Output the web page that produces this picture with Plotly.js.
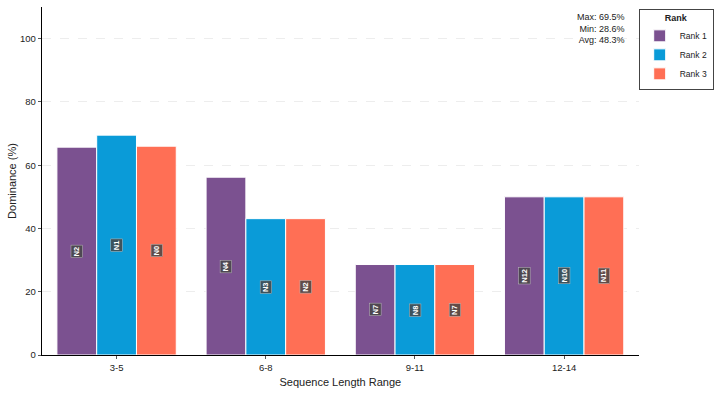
<!DOCTYPE html>
<html>
<head>
<meta charset="utf-8">
<script src="https://cdn.plot.ly/plotly-3.0.1.min.js"></script>
<style>
  body { margin: 0; background: #fff; }
  #chart { width: 718px; height: 393px; }
</style>
</head>
<body>
<div id="chart"></div>
<script>
// data
const ranges = ['3-5', '6-8', '9-11', '12-14'];
const rankNames = ['Rank 1', 'Rank 2', 'Rank 3'];
const rank1 = [65.7, 56.2, 28.6, 50.0];
const rank2 = [69.5, 43.1, 28.6, 50.0];
const rank3 = [66.0, 43.1, 28.6, 50.0];
const rank1Labels = ['N2', 'N4', 'N7', 'N12'];
const rank2Labels = ['N1', 'N3', 'N8', 'N10'];
const rank3Labels = ['N0', 'N2', 'N7', 'N11'];
const colors = ['#7B5190', '#0A9BD8', '#FF6F55'];

const series = [rank1, rank2, rank3];
const labels = [rank1Labels, rank2Labels, rank3Labels];

const traces = series.map((vals, k) => ({
    type: 'bar',
    name: rankNames[k],
    x: ranges,
    y: vals,
    marker: { color: colors[k], line: { color: '#ffffff', width: 1 } },
    hoverinfo: 'x+y+name'
}));

// bar label boxes, centred in each bar
const bargap = 0.2;
const barW = (1 - bargap) / series.length;
const annotations = [];
series.forEach((vals, k) => {
    vals.forEach((v, i) => {
        annotations.push({
            x: i + (k - 1) * barW,
            y: v / 2,
            xref: 'x', yref: 'y',
            text: '<b>' + labels[k][i] + '</b>',
            showarrow: false,
            textangle: -90,
            font: { family: 'Liberation Sans, Arial, sans-serif', size: 7.5, color: '#ffffff' },
            bgcolor: 'rgba(70,70,70,0.85)',
            bordercolor: '#bbbbbb',
            borderwidth: 0.5,
            borderpad: 1
        });
    });
});

const all = series.flat();
const maxV = Math.max(...all);
const minV = Math.min(...all);
const avgV = all.reduce((a, b) => a + b, 0) / all.length;

annotations.push({
    xref: 'paper', yref: 'paper',
    x: 0.98, y: 0.99,
    xanchor: 'right', yanchor: 'top',
    align: 'right',
    showarrow: false,
    text: 'Max: ' + maxV.toFixed(1) + '%<br>Min: ' + minV.toFixed(1) + '%<br>Avg: ' + avgV.toFixed(1) + '%',
    font: { family: 'Liberation Sans, Arial, sans-serif', size: 9, color: '#222' }
});

const layout = {
    width: 718,
    height: 393,
    margin: { l: 42, r: 76, t: 7, b: 38 },
    paper_bgcolor: '#ffffff',
    plot_bgcolor: '#ffffff',
    font: { family: 'Liberation Sans, Arial, sans-serif', size: 9.5, color: '#222' },
    barmode: 'group',
    bargap: bargap,
    bargroupgap: 0,
    showlegend: true,
    legend: {
        title: { text: '<b>Rank</b>', side: 'top center', font: { size: 9 } },
        xref: 'container', yref: 'container',
        x: 0.994, y: 0.978, xanchor: 'right', yanchor: 'top',
        bordercolor: '#444', borderwidth: 1,
        font: { size: 8.5 },
        itemwidth: 30,
        tracegroupgap: 0
    },
    xaxis: {
        title: { text: 'Sequence Length Range', font: { size: 11 }, standoff: 6 },
        showline: true, linecolor: '#000', linewidth: 1.2,
        ticks: 'outside', ticklen: 3, tickcolor: '#555',
        showgrid: false, zeroline: false,
        range: [-0.5, 3.5]
    },
    yaxis: {
        title: { text: 'Dominance (%)', font: { size: 11 }, standoff: 1 },
        range: [0, 110],
        tickvals: [0, 20, 40, 60, 80, 100],
        showline: true, linecolor: '#000', linewidth: 1.2,
        ticks: 'outside', ticklen: 3, tickcolor: '#555',
        showgrid: true, gridcolor: '#e8e8e8', griddash: 'dash', gridwidth: 0.8,
        zeroline: false
    },
    annotations: annotations
};

Plotly.newPlot('chart', traces, layout, { displayModeBar: false, staticPlot: true });
</script>
</body>
</html>
